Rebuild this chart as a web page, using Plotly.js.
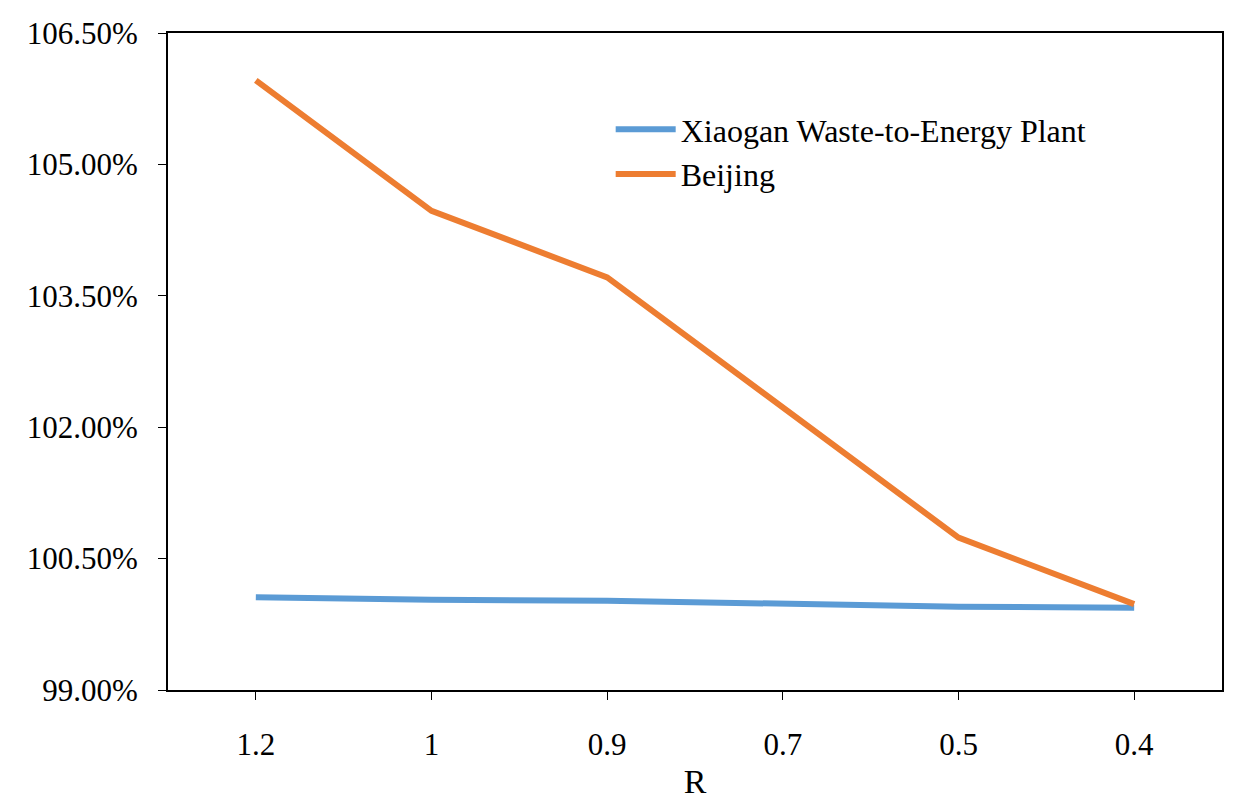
<!DOCTYPE html>
<html><head><script src="https://cdn.plot.ly/plotly-3.0.1.min.js"></script></head>
<body style="margin:0"><div id="c" style="width:1242px;height:809px"></div>
<script>
const categories=['1.2','1','0.9','0.7','0.5','0.4'];
const xiaogan=[100.06,100.03,100.02,99.98,99.95,99.94];
const beijing=[105.96,104.47,103.71,102.22,100.74,99.98];
const yTicks=[99,100.5,102,103.5,105,106.5];
Plotly.newPlot('c',[
{x:categories,y:xiaogan,type:'scatter',mode:'lines',name:'Xiaogan Waste-to-Energy Plant',line:{color:'#5b9bd5',width:6}},
{x:categories,y:beijing,type:'scatter',mode:'lines',name:'Beijing',line:{color:'#ed7d31',width:6}}
],{
width:1242,height:809,margin:{l:168,r:20,t:33,b:119},
font:{family:'Liberation Serif, Times New Roman, serif',size:31,color:'#000'},
paper_bgcolor:'#fff',plot_bgcolor:'#fff',
xaxis:{type:'category',range:[-0.5,5.5],showline:true,mirror:true,linecolor:'#000',linewidth:2,ticks:'outside',ticklen:8,tickcolor:'#000',ticklabelstandoff:18,showgrid:false,zeroline:false,title:{text:'R',font:{size:34},standoff:8}},
yaxis:{range:[99,106.5],tickvals:yTicks,ticktext:yTicks.map(v=>v.toFixed(2)+'%'),showline:true,mirror:true,linecolor:'#000',linewidth:2,ticks:'outside',ticklen:8,tickcolor:'#000',ticklabelstandoff:14,showgrid:false,zeroline:false},
legend:{x:0.42,y:0.895,xanchor:'left',yanchor:'top',bgcolor:'rgba(0,0,0,0)',font:{size:32},tracegroupgap:30,itemwidth:60},
showlegend:true
},{staticPlot:true});
</script></body></html>
